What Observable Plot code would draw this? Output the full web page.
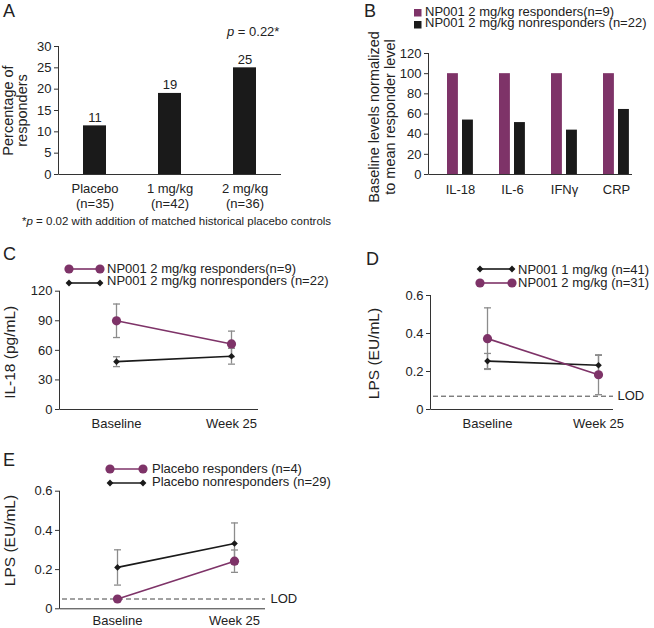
<!DOCTYPE html>
<html><head><meta charset="utf-8">
<script src="https://cdn.jsdelivr.net/npm/d3@7"></script>
<script src="https://cdn.jsdelivr.net/npm/@observablehq/plot@0.6"></script>
<style>
body{margin:0;background:#fff;}
#fig{position:relative;width:654px;height:628px;font-family:"Liberation Sans",Arial,sans-serif;color:#222;overflow:hidden;background:#fff;}
.abs{position:absolute;white-space:nowrap;}
.letter{font-size:18px;line-height:18px;}
.legtxt{font-size:13px;line-height:11px;}
.panel{position:absolute;}
</style></head><body><div id="fig"></div>
<script>
// ---------- DATA ----------
// Panel A
const aGroups = ["Placebo\n(n=35)", "1 mg/kg\n(n=42)", "2 mg/kg\n(n=36)"];
const aPercent = [11.4, 19.0, 25.0];
const aLabels = ["11", "19", "25"];
const aYTicks = [0, 5, 10, 15, 20, 25, 30];
const aYLabel = "Percentage of\nresponders";
const aPText = "= 0.22*";
const aFootnote = "= 0.02 with addition of matched historical placebo controls";

// Panel B
const bMarkers = ["IL-18", "IL-6", "IFNγ", "CRP"];
const bResponders = [100, 100, 100, 100];
const bNonresponders = [54, 51.5, 44, 64.5];
const bSeries = ["NP001 2 mg/kg responders(n=9)", "NP001 2 mg/kg nonresponders (n=22)"];
const bYTicks = [0, 20, 40, 60, 80, 100, 120];
const bYLabel = "Baseline levels normalized\nto mean responder level";

// Shared time points
const timepoints = ["Baseline", "Week 25"];

// Panel C (IL-18, pg/mL)
const cSeries = ["NP001 2 mg/kg responders(n=9)", "NP001 2 mg/kg nonresponders (n=22)"];
const cRespMean = [90, 66.5];
const cRespErr = [17, 13];
const cNonMean = [48.5, 54];
const cNonErr = [5, 8];
const cYTicks = [0, 30, 60, 90, 120];
const cYLabel = "IL-18 (pg/mL)";

// Panel D (LPS, EU/mL)
const dSeries = ["NP001 1 mg/kg (n=41)", "NP001 2 mg/kg (n=31)"];
const d1Mean = [0.255, 0.233];
const d1Err = [0.04, 0.052];
const d2Mean = [0.373, 0.183];
const d2Err = [0.162, 0.105];
const dLOD = 0.07;
const lpsTicks = [0, 0.2, 0.4, 0.6];
const lpsLabel = "LPS (EU/mL)";
const lodLabel = "LOD";

// Panel E (LPS, EU/mL)
const eSeries = ["Placebo responders (n=4)", "Placebo nonresponders (n=29)"];
const eRespMean = [0.05, 0.243];
const eRespErr = [0, 0.057];
const eNonMean = [0.211, 0.333];
const eNonErr = [0.09, 0.105];
const eLOD = 0.05;

// ---------- STYLE ----------
const MAG = "#7e3368";
const BLK = "#1a1a1a";
const ERR = "#8c8c8c";
const AX = "#333";
const FONT = "'Liberation Sans', Arial, sans-serif";

const fig = document.getElementById("fig");

function axisLines() {
  return (index, scales, values, dim) => {
    const {width, height, marginLeft, marginRight, marginTop, marginBottom} = dim;
    const g = d3.create("svg:g").attr("stroke", AX).attr("stroke-width", 1).attr("fill", "none");
    const x0 = marginLeft + 0.5, yb = height - marginBottom + 0.5;
    g.append("line").attr("x1", x0).attr("x2", x0).attr("y1", marginTop).attr("y2", yb);
    g.append("line").attr("x1", x0).attr("x2", width - marginRight).attr("y1", yb).attr("y2", yb);
    return g.node();
  };
}

function place(el, left, top) {
  const d = document.createElement("div");
  d.className = "panel";
  d.style.left = left + "px";
  d.style.top = top + "px";
  d.appendChild(el);
  fig.appendChild(d);
}

function html(str, left, top, cls, extra) {
  const d = document.createElement("div");
  d.className = "abs " + (cls || "");
  d.style.left = left + "px";
  d.style.top = top + "px";
  if (extra) d.style.cssText += extra;
  d.innerHTML = str;
  fig.appendChild(d);
}

const plotStyle = {fontFamily: FONT, fontSize: "13px", color: "#222", background: "transparent", overflow: "visible"};

function series(means, errs) {
  return timepoints.map((t, i) => ({t, mean: means[i], err: errs[i]}));
}

// horizontal cap symbol for error bars
const capSymbol = {draw(context) { context.moveTo(-3.5, 0); context.lineTo(3.5, 0); }};

function errMarks(rows) {
  const r = rows.filter(d => d.err > 0);
  return [
    Plot.ruleX(r, {x: "t", y1: d => d.mean - d.err, y2: d => d.mean + d.err, stroke: ERR, strokeWidth: 1.3}),
    Plot.dot(r, {x: "t", y: d => d.mean - d.err, symbol: capSymbol, fill: "none", stroke: ERR, strokeWidth: 1.3}),
    Plot.dot(r, {x: "t", y: d => d.mean + d.err, symbol: capSymbol, fill: "none", stroke: ERR, strokeWidth: 1.3})
  ];
}
function circleSeries(rows) {
  return [
    Plot.line(rows, {x: "t", y: "mean", stroke: MAG, strokeWidth: 1.6}),
    Plot.dot(rows, {x: "t", y: "mean", r: 4.6, fill: MAG, stroke: "none"})
  ];
}
function diamondSeries(rows) {
  return [
    Plot.line(rows, {x: "t", y: "mean", stroke: BLK, strokeWidth: 1.7}),
    Plot.dot(rows, {x: "t", y: "mean", r: 3, symbol: "diamond2", fill: BLK, stroke: "none"})
  ];
}
function yLabelMark(label, dx, dy, size, lh) {
  return Plot.text([label], {frameAnchor: "left", rotate: -90, dx, dy, fontSize: size, lineHeight: lh, textAnchor: "middle", lineAnchor: "middle", fill: "#222"});
}
const lpsFmt = d => d === 0 ? "0" : d.toFixed(1);

// ---------- PANEL A ----------
const aRows = aGroups.map((g, i) => ({g, v: aPercent[i], label: aLabels[i]}));
place(Plot.plot({
  width: 330, height: 240,
  marginLeft: 58, marginRight: 49, marginTop: 46, marginBottom: 66,
  style: plotStyle,
  x: {domain: aGroups, paddingInner: 0.69, paddingOuter: 0.33, label: null},
  y: {domain: [0, 30], label: null},
  marks: [
    Plot.barY(aRows, {x: "g", y: "v", fill: BLK}),
    Plot.text(aRows, {x: "g", y: "v", text: "label", lineAnchor: "bottom", dy: -4, fontSize: 13}),
    Plot.axisY({ticks: aYTicks, tickSize: 4, tickPadding: 3, stroke: AX, label: null}),
    Plot.axisX({tickSize: 0, tickPadding: 9, label: null, lineHeight: 1.08}),
    axisLines(),
    yLabelMark(aYLabel, -43, 0, 14.5, 1.0)
  ]
}), 0, 0);

// ---------- PANEL B ----------
const bRows = bMarkers.map((m, i) => ({m, r: bResponders[i], n: bNonresponders[i]}));
place(Plot.plot({
  width: 324, height: 240,
  marginLeft: 98, marginRight: 22, marginTop: 53, marginBottom: 66,
  style: plotStyle,
  x: {domain: bMarkers, range: [102, 313.2], padding: 0, label: null},
  y: {domain: [0, 120], label: null},
  marks: [
    Plot.barY(bRows, {x: "m", y: "r", fill: MAG, insetLeft: 13, insetRight: 28.1}),
    Plot.barY(bRows, {x: "m", y: "n", fill: BLK, insetLeft: 28, insetRight: 13.1}),
    Plot.axisY({ticks: bYTicks, tickSize: 4, tickPadding: 3, stroke: AX, label: null}),
    Plot.axisX({tickSize: 0, tickPadding: 10, label: null}),
    axisLines(),
    yLabelMark(bYLabel, -47, 3, 14.5, 1.1)
  ]
}), 330, 0);

// ---------- PANEL C ----------
const cResp = series(cRespMean, cRespErr);
const cNon = series(cNonMean, cNonErr);
place(Plot.plot({
  width: 330, height: 200,
  marginLeft: 59, marginRight: 72, marginTop: 50.7, marginBottom: 31,
  style: plotStyle,
  x: {type: "point", domain: timepoints, range: [116, 231], padding: 0, label: null},
  y: {domain: [0, 120], label: null},
  marks: [
    ...errMarks(cResp), ...errMarks(cNon),
    ...diamondSeries(cNon), ...circleSeries(cResp),
    Plot.axisY({ticks: cYTicks, tickSize: 4, tickPadding: 3, stroke: AX, label: null}),
    Plot.axisX({tickSize: 0, tickPadding: 9, label: null}),
    axisLines(),
    yLabelMark(cYLabel, -49, 2, 15.5, 1)
  ]
}), 0, 240);

// ---------- PANEL D ----------
const d1 = series(d1Mean, d1Err);
const d2 = series(d2Mean, d2Err);
place(Plot.plot({
  width: 324, height: 200,
  marginLeft: 100, marginRight: 41, marginTop: 55, marginBottom: 31,
  style: plotStyle,
  x: {type: "point", domain: timepoints, range: [157, 268], padding: 0, label: null},
  y: {domain: [0, 0.6], label: null},
  marks: [
    Plot.ruleY([dLOD], {stroke: "#444", strokeWidth: 1, strokeDasharray: "5,3", insetLeft: 3}),
    Plot.text([lodLabel], {y: () => dLOD, frameAnchor: "right", textAnchor: "start", dx: 4, fontSize: 13}),
    ...errMarks(d2), ...errMarks(d1),
    ...diamondSeries(d1), ...circleSeries(d2),
    Plot.axisY({ticks: lpsTicks, tickFormat: lpsFmt, tickSize: 4, tickPadding: 3, stroke: AX, label: null}),
    Plot.axisX({tickSize: 0, tickPadding: 9, label: null}),
    axisLines(),
    yLabelMark(lpsLabel, -56, 1, 15.5, 1)
  ]
}), 330, 240);

// ---------- PANEL E ----------
const eResp = series(eRespMean, eRespErr);
const eNon = series(eNonMean, eNonErr);
place(Plot.plot({
  width: 330, height: 188,
  marginLeft: 59, marginRight: 65, marginTop: 50.7, marginBottom: 19.7,
  style: plotStyle,
  x: {type: "point", domain: timepoints, range: [117, 234], padding: 0, label: null},
  y: {domain: [0, 0.6], label: null},
  marks: [
    Plot.ruleY([eLOD], {stroke: "#444", strokeWidth: 1, strokeDasharray: "5,3", insetLeft: 3}),
    Plot.text([lodLabel], {y: () => eLOD, frameAnchor: "right", textAnchor: "start", dx: 5, fontSize: 13}),
    ...errMarks(eResp), ...errMarks(eNon),
    ...diamondSeries(eNon), ...circleSeries(eResp),
    Plot.axisY({ticks: lpsTicks, tickFormat: lpsFmt, tickSize: 4, tickPadding: 3, stroke: AX, label: null}),
    Plot.axisX({tickSize: 0, tickPadding: 7, label: null}),
    axisLines(),
    yLabelMark(lpsLabel, -49.5, -9.5, 15.5, 1)
  ]
}), 0, 440);

// ---------- TEXT / LEGENDS ----------
html("A", 3, 2, "letter");
html("B", 364, 2, "letter");
html("C", 3, 245, "letter");
html("D", 366, 250, "letter");
html("E", 3, 451, "letter");

html("<i>p</i> " + aPText, 227, 26, "", "font-size:13px;line-height:12px;");
html("*<i>p</i> " + aFootnote, 22, 214.5, "", "font-size:11.5px;line-height:13px;");

function swatchLine(x0, x1, yc, kind, color) {
  const pad = 6;
  const w = x1 - x0 + 2 * pad;
  let marker = "";
  const ends = [pad, pad + (x1 - x0)];
  for (const cx of ends) {
    if (kind === "circle") marker += `<circle cx="${cx}" cy="7" r="4.6" fill="${color}"/>`;
    else marker += `<path d="M${cx},${7 - 3.4}L${cx + 3.4},7L${cx},${7 + 3.4}L${cx - 3.4},7Z" fill="${color}"/>`;
  }
  const svg = `<svg width="${w}" height="14" style="display:block"><line x1="${pad}" x2="${pad + x1 - x0}" y1="7" y2="7" stroke="${color}" stroke-width="1.6"/>${marker}</svg>`;
  html(svg, x0 - pad, yc - 7, "");
}
function swatchSquare(cx, cy, color) {
  html(`<svg width="8" height="8" style="display:block"><rect width="7.5" height="7.5" fill="${color}"/></svg>`, cx - 3.75, cy - 3.75, "");
}

// legend text: line-height 11px -> baseline ~ top + 10
// B legend
swatchSquare(418, 13, MAG);
html(bSeries[0], 425, 5.5, "legtxt");
swatchSquare(418, 24.3, BLK);
html(bSeries[1], 425, 16.7, "legtxt");

// C legend
swatchLine(69, 100, 269, "circle", MAG);
html(cSeries[0], 107, 263.3, "legtxt");
swatchLine(69, 100, 282.7, "diamond", BLK);
html(cSeries[1], 107, 275, "legtxt");

// D legend
swatchLine(480, 512, 269.3, "diamond", BLK);
html(dSeries[0], 518, 264, "legtxt");
swatchLine(480, 512, 282.7, "circle", MAG);
html(dSeries[1], 518, 276.7, "legtxt");

// E legend
swatchLine(110, 143, 469, "circle", MAG);
html(eSeries[0], 152, 463.3, "legtxt");
swatchLine(110, 143, 483, "diamond", BLK);
html(eSeries[1], 152, 475.7, "legtxt");
</script></body></html>
